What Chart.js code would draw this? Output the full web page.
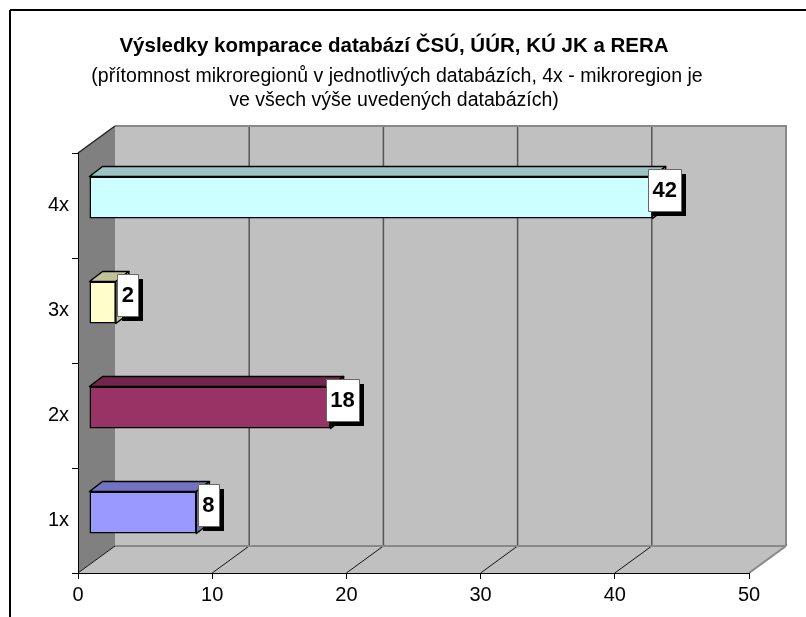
<!DOCTYPE html>
<html>
<head>
<meta charset="utf-8">
<script src="https://cdn.jsdelivr.net/npm/chart.js@4.4.1/dist/chart.umd.min.js"></script>
<style>
  html, body { margin: 0; padding: 0; background: #fff; }
  canvas { display: block; }
</style>
</head>
<body>
<canvas id="chart" width="806" height="617"></canvas>
<script>
const categories = ["1x", "2x", "3x", "4x"];
const counts = [8, 18, 2, 42];
const xTicks = [0, 10, 20, 30, 40, 50];

const titleText = "Výsledky komparace databází ČSÚ, ÚÚR, KÚ JK a RERA";
const subtitleLines = [
  "(přítomnost mikroregionů v jednotlivých databázích, 4x - mikroregion je",
  "ve všech výše uvedených databázích)"
];

const frontColors = ["#9999FF", "#993366", "#FFFFCC", "#CCFFFF"];
const topColors = ["#7373BF", "#73264D", "#C2C29A", "#9CC4C4"];

const FONT = "'Liberation Sans', Arial, sans-serif";

// depth of the 3d box and of the bars (pixels)
const DEPTH_X = 37, DEPTH_Y = -27;
const BAR_OX = 11, BAR_OY = -8;
const BAR_DX = 13, BAR_DY = -10;

function poly(ctx, pts, fill, stroke, lw) {
  ctx.beginPath();
  ctx.moveTo(pts[0][0], pts[0][1]);
  for (let i = 1; i < pts.length; i++) ctx.lineTo(pts[i][0], pts[i][1]);
  ctx.closePath();
  if (fill) { ctx.fillStyle = fill; ctx.fill(); }
  if (stroke) { ctx.strokeStyle = stroke; ctx.lineWidth = lw || 1; ctx.stroke(); }
}

function line(ctx, x0, y0, x1, y1, color, lw) {
  ctx.beginPath();
  ctx.moveTo(x0, y0);
  ctx.lineTo(x1, y1);
  ctx.strokeStyle = color;
  ctx.lineWidth = lw;
  ctx.stroke();
}

const threeD = {
  id: "threeD",
  beforeDraw(chart) {
    const ctx = chart.ctx;
    const xs = chart.scales.x;
    const area = chart.chartArea;
    ctx.save();
    ctx.fillStyle = "#fff";
    ctx.fillRect(0, 0, chart.width, chart.height);

    // frame
    line(ctx, 10, 10, chart.width, 10, "#000", 2);
    line(ctx, 10, 10, 10, chart.height, "#000", 2);

    // titles
    ctx.fillStyle = "#000";
    ctx.textAlign = "center";
    ctx.textBaseline = "middle";
    ctx.font = "bold 20.5px " + FONT;
    ctx.fillText(titleText, 394, 46);
    ctx.font = "19.5px " + FONT;
    ctx.fillText(subtitleLines[0], 397, 77);
    ctx.fillText(subtitleLines[1], 394, 101);

    const l = xs.getPixelForValue(xTicks[0]);
    const r = xs.getPixelForValue(xTicks[xTicks.length - 1]);
    const t = area.top, b = area.bottom;

    // walls and floor
    poly(ctx, [[l, b], [l, t], [l + DEPTH_X, t + DEPTH_Y], [l + DEPTH_X, b + DEPTH_Y]], "#808080");
    poly(ctx, [[l + DEPTH_X, t + DEPTH_Y], [r + DEPTH_X, t + DEPTH_Y], [r + DEPTH_X, b + DEPTH_Y], [l + DEPTH_X, b + DEPTH_Y]], "#C0C0C0");
    poly(ctx, [[l, b], [l + DEPTH_X, b + DEPTH_Y], [r + DEPTH_X, b + DEPTH_Y], [r, b]], "#C0C0C0");

    // gridlines on back wall and floor
    xTicks.forEach((v, i) => {
      const px = xs.getPixelForValue(v);
      const last = i === xTicks.length - 1;
      if (i > 0) line(ctx, px + DEPTH_X, t + DEPTH_Y, px + DEPTH_X, b + DEPTH_Y, last ? "#888" : "#555", last ? 2 : 1.5);
      line(ctx, px, b, px + DEPTH_X, b + DEPTH_Y, last ? "#888" : "#111", last ? 2 : 1);
    });
    line(ctx, l + DEPTH_X, t + DEPTH_Y, r + DEPTH_X + 1, t + DEPTH_Y, "#888", 2);
    line(ctx, l + DEPTH_X, b + DEPTH_Y, r + DEPTH_X, b + DEPTH_Y, "#888", 2);
    line(ctx, l, t, l + DEPTH_X, t + DEPTH_Y, "#222", 1.5);
    ctx.restore();
  },
  beforeDatasetsDraw(chart) {
    chart.ctx.save();
    chart.ctx.translate(BAR_OX, BAR_OY);
  },
  afterDatasetsDraw(chart) {
    const ctx = chart.ctx;
    ctx.restore();
    const meta = chart.getDatasetMeta(0);
    ctx.save();
    ctx.lineJoin = "round";
    meta.data.forEach((el, i) => {
      const x0 = el.base + BAR_OX, x1 = el.x + BAR_OX;
      const yt = el.y - el.height / 2 + BAR_OY, yb = el.y + el.height / 2 + BAR_OY;
      poly(ctx, [[x0, yt], [x1, yt], [x1 + BAR_DX, yt + BAR_DY], [x0 + BAR_DX, yt + BAR_DY]], topColors[i], "#000", 1.5);
      poly(ctx, [[x1, yt], [x1 + BAR_DX, yt + BAR_DY], [x1 + BAR_DX, yb + BAR_DY], [x1, yb]], topColors[i], "#000", 1.5);
    });

    // value labels
    ctx.font = "bold 22px " + FONT;
    ctx.textAlign = "center";
    ctx.textBaseline = "middle";
    meta.data.forEach((el, i) => {
      const txt = String(counts[i]);
      const cx = el.x + BAR_OX + 12;
      const cy = el.y + BAR_OY - 8;
      const w = Math.round(ctx.measureText(txt).width + 9);
      const h = 42;
      const bx = Math.round(cx - w / 2), by = Math.round(cy - h / 2);
      ctx.fillStyle = "#000";
      ctx.fillRect(bx + 5, by + 5, w, h);
      ctx.fillStyle = "#fff";
      ctx.fillRect(bx, by, w, h);
      ctx.strokeStyle = "#666";
      ctx.lineWidth = 1;
      ctx.strokeRect(bx + 0.5, by + 0.5, w, h);
      ctx.fillStyle = "#000";
      ctx.fillText(txt, cx, cy + 1);
    });
    ctx.restore();
  }
};

new Chart(document.getElementById("chart"), {
  type: "bar",
  data: {
    labels: categories,
    datasets: [{
      data: counts,
      backgroundColor: frontColors,
      borderColor: "#000",
      borderWidth: 1.5,
      borderSkipped: false,
      categoryPercentage: 1,
      barPercentage: 0.4,
      clip: false
    }]
  },
  options: {
    indexAxis: "y",
    responsive: false,
    animation: false,
    devicePixelRatio: 1,
    layout: { padding: { top: 153, right: 57, left: 0, bottom: 0 } },
    plugins: {
      legend: { display: false },
      title: { display: false },
      tooltip: { enabled: false }
    },
    scales: {
      x: {
        min: 0,
        max: 50,
        afterBuildTicks: (s) => { s.ticks = xTicks.map((v) => ({ value: v })); },
        ticks: { color: "#000", font: { family: FONT, size: 20 }, padding: 4, maxRotation: 0 },
        grid: { drawOnChartArea: false, color: "#000", tickLength: 6 },
        border: { color: "#000", width: 1 },
        afterFit: (s) => { s.height = 44; }
      },
      y: {
        reverse: true,
        ticks: { color: "#000", font: { family: FONT, size: 20 }, padding: 3 },
        grid: { drawOnChartArea: false, color: "#000", tickLength: 6, offset: true },
        border: { color: "#000", width: 1 },
        afterFit: (s) => { s.width = 78; }
      }
    }
  },
  plugins: [threeD]
});
</script>
</body>
</html>
